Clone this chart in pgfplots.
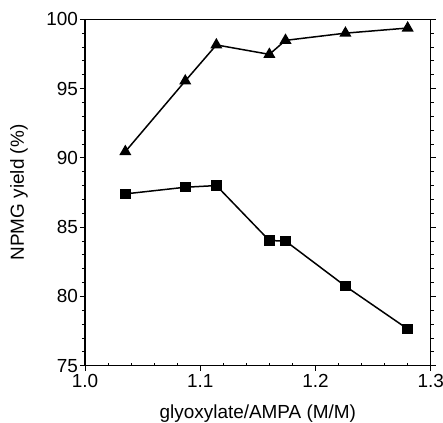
\documentclass[border=0pt]{standalone}
\usepackage{pgfplots}
\pgfplotsset{compat=1.18}
\usepackage{fontspec}
\setmainfont{Liberation Sans}
\begin{document}
\begin{tikzpicture}
\begin{axis}[
  scale only axis, width=345.7bp, height=346.4bp,
  xmin=1.0, xmax=1.3, ymin=75, ymax=100,
  xtick={1.0,1.1,1.2,1.3}, ytick={75,80,...,100},
  minor x tick num=4, minor y tick num=4,
  xtick pos=bottom,
  tick align=outside,
  major tick length=5bp, minor tick length=3bp,
  minor x tick style={yshift=3bp},
  every tick/.style={black, line width=0.9bp},
  axis line style={line width=1.3bp},
  /pgf/number format/assume math mode=true,
  tick label style={font=\fontsize{19}{22}\selectfont},
  yticklabel style={inner xsep=1.8bp},
  xticklabel={\pgfmathprintnumber[fixed,fixed zerofill,precision=1]{\tick}},
  xlabel={glyoxylate/AMPA (M/M)},
  ylabel={NPMG yield (\%)},
  every axis x label/.style={at={(rel axis cs:0.5,0)}, anchor=base, yshift=-53bp, font=\fontsize{19}{22}\selectfont},
  every axis y label/.style={at={(rel axis cs:0,0.5)}, xshift=-66bp, rotate=90, anchor=center, font=\fontsize{19}{22}\selectfont},
  clip=false,
]
\addplot[black, line width=1.5bp, mark=triangle*, mark size=5.5bp, mark options={solid, fill=black}]
  coordinates {(1.035,90.45) (1.087,95.55) (1.114,98.15) (1.160,97.47) (1.174,98.48) (1.226,99.00) (1.280,99.37)};
\addplot[black, line width=1.5bp, mark=square*, mark size=4.5bp, mark options={solid, fill=black}]
  coordinates {(1.035,87.40) (1.087,87.88) (1.114,88.00) (1.160,84.03) (1.174,84.00) (1.226,80.74) (1.280,77.65)};
\coordinate (sw) at (rel axis cs:0,0);
\coordinate (ne) at (rel axis cs:1,1);
\end{axis}
\pgfresetboundingbox
\path ([shift={(-85bp,-57.3bp)}]sw) rectangle ([shift={(12.3bp,19.3bp)}]ne);
\end{tikzpicture}
\end{document}
